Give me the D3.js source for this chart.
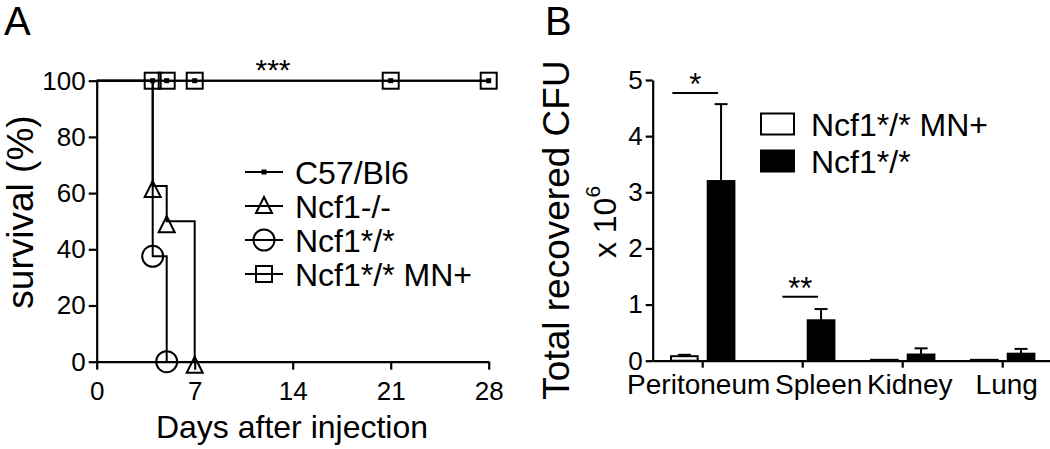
<!DOCTYPE html>
<html>
<head>
<meta charset="utf-8">
<script src="https://cdn.jsdelivr.net/npm/d3@7"></script>
<style>
  body { margin: 0; background: #fff; }
  svg { display: block; font-family: "Liberation Sans", Arial, sans-serif; }
</style>
</head>
<body>
<svg id="chart" width="1050" height="449"></svg>
<script>
// panel A - survival curves
const survivalGroups = ["C57/Bl6", "Ncf1-/-", "Ncf1*/*", "Ncf1*/* MN+"]
const c57Days = [0, 4, 5, 7, 21, 28]
const c57Survival = [100, 100, 100, 100, 100, 100]
const koDays = [0, 4, 5, 7]
const koSurvival = [100, 62.5, 50, 0]
const starDays = [0, 4, 5]
const starSurvival = [100, 37.5, 0]
const mnDays = [0, 4, 5, 7, 21, 28]
const mnSurvival = [100, 100, 100, 100, 100, 100]
const dayTicks = [0, 7, 14, 21, 28]
const survivalTicks = [0, 20, 40, 60, 80, 100]

// panel B - recovered CFU (x 10^6)
const organs = ["Peritoneum", "Spleen", "Kidney", "Lung"]
const cfuGroups = ["Ncf1*/* MN+", "Ncf1*/*"]
const mnCfu = [0.08, 0.0, 0.015, 0.015]
const mnCfuErr = [0.025, 0, 0, 0]
const starCfu = [3.2, 0.72, 0.11, 0.125]
const starCfuErr = [1.37, 0.2, 0.11, 0.085]
const cfuTicks = [0, 1, 2, 3, 4, 5]

const svg = d3.select("#chart")
const font = "Liberation Sans, Arial, sans-serif"

function styleAxis(g, size) {
  g.attr("font-family", font).attr("font-size", size)
  g.selectAll("path, line").attr("stroke", "#000").attr("stroke-width", 2.2)
  g.selectAll("text").attr("fill", "#000")
}

function drawMarker(g, type, cx, cy, legend) {
  if (type === "circle") {
    g.append("circle").attr("cx", cx).attr("cy", cy).attr("r", 10.5)
      .attr("fill", "none").attr("stroke", "#000").attr("stroke-width", 2)
  } else if (type === "square") {
    g.append("rect").attr("x", cx - 8).attr("y", cy - 8).attr("width", 16).attr("height", 16)
      .attr("fill", "none").attr("stroke", "#000").attr("stroke-width", 2)
  } else if (type === "triangle") {
    const off = legend ? -1 : 3
    g.append("path")
      .attr("d", `M${cx},${cy + off - 8}L${cx + 8},${cy + off + 8}L${cx - 8},${cy + off + 8}Z`)
      .attr("fill", "none").attr("stroke", "#000").attr("stroke-width", 2)
  } else {
    g.append("rect").attr("x", cx - 2.5).attr("y", cy - 2.5).attr("width", 5).attr("height", 5)
      .attr("fill", "#000")
  }
}

//----- panel A
const xA = d3.scaleLinear([0, 28], [96.7, 488.7])
const yA = d3.scaleLinear([0, 100], [361.7, 80.7])

const gA = svg.append("g")
gA.append("g")
  .attr("transform", `translate(0,${yA(0)})`)
  .call(d3.axisBottom(xA).tickValues(dayTicks).tickSize(8).tickPadding(12).tickSizeOuter(0))
  .call(g => styleAxis(g, 26))
gA.append("g")
  .attr("transform", `translate(${xA(0)},0)`)
  .call(d3.axisLeft(yA).tickValues(survivalTicks).tickSize(8).tickPadding(3).tickSizeOuter(0))
  .call(g => styleAxis(g, 26))

const series = [
  {name: survivalGroups[2], days: starDays, surv: starSurvival, symbol: "circle"},
  {name: survivalGroups[1], days: koDays, surv: koSurvival, symbol: "triangle"},
  {name: survivalGroups[3], days: mnDays, surv: mnSurvival, symbol: "square"},
  {name: survivalGroups[0], days: c57Days, surv: c57Survival, symbol: "dot"}
]
const step = d3.line().x(d => xA(d[0])).y(d => yA(d[1])).curve(d3.curveStepAfter)

series.forEach(s => {
  const pts = s.days.map((d, i) => [d, s.surv[i]])
  gA.append("path").attr("d", step(pts))
    .attr("fill", "none").attr("stroke", "#000").attr("stroke-width", 2)
})
series.forEach(s => {
  s.days.forEach((d, i) => {
    if (i > 0) drawMarker(gA, s.symbol, xA(d), yA(s.surv[i]), false)
  })
})

gA.append("text").attr("x", 273).attr("y", 80).attr("text-anchor", "middle")
  .attr("font-size", 30).text("***")

// legend A
const legendOrder = [
  {name: survivalGroups[0], symbol: "dot"},
  {name: survivalGroups[1], symbol: "triangle"},
  {name: survivalGroups[2], symbol: "circle"},
  {name: survivalGroups[3], symbol: "square"}
]
legendOrder.forEach((d, i) => {
  const ly = 172 + i * 34
  gA.append("line").attr("x1", 245).attr("x2", 283).attr("y1", ly).attr("y2", ly)
    .attr("stroke", "#000").attr("stroke-width", 2)
  drawMarker(gA, d.symbol, 264, ly, true)
  gA.append("text").attr("x", 295).attr("y", ly).attr("dy", "0.36em")
    .attr("font-size", 32).text(d.name)
})

gA.append("text").attr("transform", "translate(33,212) rotate(-90)")
  .attr("text-anchor", "middle").attr("font-size", 37).text("survival (%)")
gA.append("text").attr("x", 292).attr("y", 438).attr("text-anchor", "middle")
  .attr("font-size", 32).text("Days after injection")
svg.append("text").attr("x", 4).attr("y", 35).attr("font-size", 40).text("A")

//----- panel B
const x0 = d3.scaleBand().domain(organs).range([652.7, 1052.7])
const x1 = d3.scaleBand().domain(cfuGroups).range([18.3, 81.7]).paddingInner(0.2725)
const yB = d3.scaleLinear([0, 5], [360.7, 80])

const gB = svg.append("g")

const barData = organs.flatMap((o, i) => [
  {organ: o, group: cfuGroups[0], value: mnCfu[i], err: mnCfuErr[i]},
  {organ: o, group: cfuGroups[1], value: starCfu[i], err: starCfuErr[i]}
])

// error bars (upper only)
barData.filter(d => d.err > 0).forEach(d => {
  const cx = x0(d.organ) + x1(d.group) + x1.bandwidth() / 2
  gB.append("line").attr("x1", cx).attr("x2", cx)
    .attr("y1", yB(d.value)).attr("y2", yB(d.value + d.err))
    .attr("stroke", "#000").attr("stroke-width", 2)
  gB.append("line").attr("x1", cx - 6.5).attr("x2", cx + 6.5)
    .attr("y1", yB(d.value + d.err)).attr("y2", yB(d.value + d.err))
    .attr("stroke", "#000").attr("stroke-width", 2)
})

gB.selectAll("rect.bar")
  .data(barData.filter(d => d.value > 0))
  .join("rect")
    .attr("class", "bar")
    .attr("x", d => x0(d.organ) + x1(d.group))
    .attr("width", x1.bandwidth())
    .attr("y", d => yB(d.value))
    .attr("height", d => yB(0) - yB(d.value))
    .attr("fill", d => d.group === cfuGroups[1] ? "#000" : "#fff")
    .attr("stroke", "#000")
    .attr("stroke-width", 2)

const xAxisB = gB.append("g")
  .attr("transform", `translate(0,${yB(0)})`)
  .call(d3.axisBottom(x0).tickSize(7).tickPadding(6).tickSizeOuter(0))
  .call(g => styleAxis(g, 28))
const labelShift = {Peritoneum: -4, Spleen: 16, Kidney: 7, Lung: 4}
xAxisB.selectAll(".tick text").attr("dx", d => labelShift[d])

gB.append("g")
  .attr("transform", `translate(${x0.range()[0]},0)`)
  .call(d3.axisLeft(yB).tickValues(cfuTicks).tickFormat(d3.format("d"))
    .tickSize(7).tickPadding(3).tickSizeOuter(0))
  .call(g => styleAxis(g, 26))

// significance marks
const sigMarks = [
  {organ: "Peritoneum", label: "*", level: 4.77, pad: -12},
  {organ: "Spleen", label: "**", level: 1.14, pad: -2}
]
sigMarks.forEach(s => {
  const xa = x0(s.organ) + x1(cfuGroups[0]) + x1.bandwidth() / 2 + s.pad
  const xb = x0(s.organ) + x1(cfuGroups[1]) + x1.bandwidth() / 2 - 3
  gB.append("line").attr("x1", xa).attr("x2", xb)
    .attr("y1", yB(s.level)).attr("y2", yB(s.level))
    .attr("stroke", "#000").attr("stroke-width", 2)
  gB.append("text").attr("x", (xa + xb) / 2).attr("y", yB(s.level) + 2)
    .attr("text-anchor", "middle").attr("font-size", 31).text(s.label)
})

// legend B
cfuGroups.forEach((name, i) => {
  const ly = 124 + i * 37
  gB.append("rect").attr("x", 761).attr("y", ly - 10.5).attr("width", 33).attr("height", 21)
    .attr("fill", i === 1 ? "#000" : "#fff").attr("stroke", "#000").attr("stroke-width", 2)
  gB.append("text").attr("x", 811).attr("y", ly).attr("dy", "0.36em")
    .attr("font-size", 32).text(name)
})

gB.append("text").attr("transform", "translate(569,230) rotate(-90)")
  .attr("text-anchor", "middle").attr("font-size", 37).text("Total recovered CFU")
const exp = gB.append("text").attr("transform", "translate(616,222) rotate(-90)")
  .attr("text-anchor", "middle").attr("font-size", 32)
exp.append("tspan").text("x 10")
exp.append("tspan").attr("font-size", 21).attr("dy", "-0.75em").text("6")
svg.append("text").attr("x", 545).attr("y", 35).attr("font-size", 40).text("B")
</script>
</body>
</html>
